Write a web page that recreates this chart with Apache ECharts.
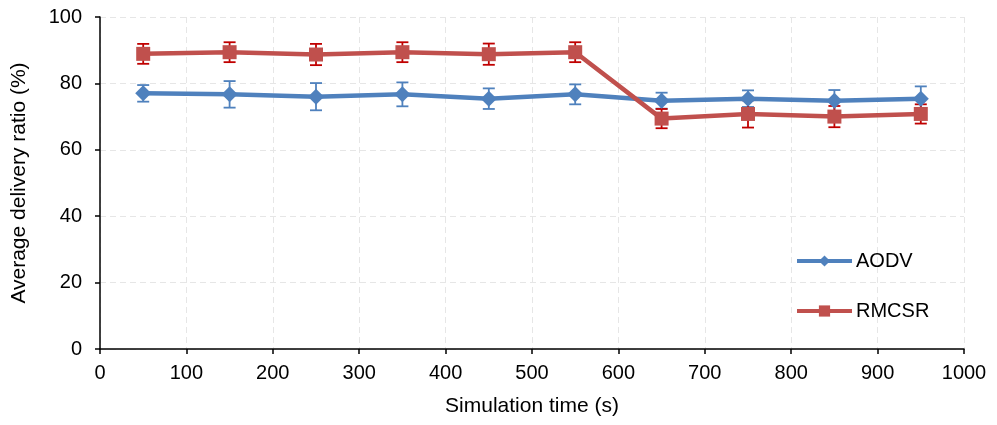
<!DOCTYPE html>
<html>
<head>
<meta charset="utf-8">
<script src="https://cdn.jsdelivr.net/npm/echarts@6/dist/echarts.min.js"></script>
<style>
  html, body { margin: 0; padding: 0; background: #fff; }
  #chart { width: 997px; height: 425px; }
</style>
</head>
<body>
<div id="chart"></div>
<script>
// Simulation times (s)
const times = [50, 150, 250, 350, 450, 550, 650, 750, 850, 950];

// Average delivery ratio (%) and standard deviation per protocol
const aodvMean = [77.0, 76.7, 76.0, 76.7, 75.4, 76.7, 74.8, 75.4, 74.8, 75.4];
const aodvErr  = [2.5, 4.0, 4.1, 3.6, 3.1, 3.0, 2.4, 2.5, 3.2, 3.7];
const rmcsrMean = [88.9, 89.4, 88.7, 89.4, 88.8, 89.4, 69.4, 70.8, 70.0, 70.8];
const rmcsrErr  = [3.0, 3.0, 3.2, 3.0, 3.2, 3.0, 2.9, 4.1, 3.2, 2.9];

const xTicks = { min: 0, max: 1000, interval: 100 };
const yTicks = { min: 0, max: 100, interval: 20 };

const FONT = 'Liberation Sans, Arial, sans-serif';

function pairs(xs, ys) { return xs.map((x, i) => [x, ys[i]]); }
function errRows(xs, ys, es) { return xs.map((x, i) => [x, ys[i] - es[i], ys[i] + es[i]]); }

// Vertical error bar with short caps at both ends
function errorBars(color) {
  return function (params, api) {
    const x = api.value(0);
    const lo = api.coord([x, api.value(1)]);
    const hi = api.coord([x, api.value(2)]);
    const half = 6;
    const style = { stroke: color, lineWidth: 1.8 };
    return {
      type: 'group',
      children: [
        { type: 'line', shape: { x1: lo[0], y1: lo[1], x2: hi[0], y2: hi[1] }, style },
        { type: 'line', shape: { x1: hi[0] - half, y1: hi[1], x2: hi[0] + half, y2: hi[1] }, style },
        { type: 'line', shape: { x1: lo[0] - half, y1: lo[1], x2: lo[0] + half, y2: lo[1] }, style }
      ]
    };
  };
}

const chart = echarts.init(document.getElementById('chart'), null, { renderer: 'canvas' });

chart.setOption({
  animation: false,
  backgroundColor: '#ffffff',
  textStyle: { fontFamily: FONT },
  grid: { left: 100, right: 33, top: 17, bottom: 76, containLabel: false },
  legend: {
    orient: 'vertical',
    left: 790,
    top: 246,
    itemWidth: 55,
    itemHeight: 14,
    itemGap: 30,
    lineStyle: { width: 4 },
    textStyle: { fontFamily: FONT, fontSize: 20, color: '#000', padding: [0, 0, 0, -1] },
    data: ['AODV', 'RMCSR']
  },
  xAxis: {
    type: 'value',
    min: xTicks.min, max: xTicks.max, interval: xTicks.interval,
    name: 'Simulation time (s)',
    nameLocation: 'middle',
    nameGap: 47,
    nameTextStyle: { fontFamily: FONT, fontSize: 21, color: '#000' },
    axisLine: { onZero: false, lineStyle: { color: '#000', width: 1.5 } },
    axisTick: { show: true, length: 5, lineStyle: { color: '#000', width: 1.5 } },
    axisLabel: { fontFamily: FONT, fontSize: 20, color: '#000', margin: 14, formatter: v => String(v) },
    splitLine: { show: true, lineStyle: { color: '#e6e6e6', type: [6, 4], width: 1 } }
  },
  yAxis: {
    type: 'value',
    min: yTicks.min, max: yTicks.max, interval: yTicks.interval,
    name: 'Average delivery ratio (%)',
    nameLocation: 'middle',
    nameGap: 70,
    nameRotate: 90,
    nameTextStyle: { fontFamily: FONT, fontSize: 21, color: '#000' },
    axisLine: { show: true, lineStyle: { color: '#000', width: 1.5 } },
    axisTick: { show: true, length: 5, lineStyle: { color: '#000', width: 1.5 } },
    axisLabel: { fontFamily: FONT, fontSize: 20, color: '#000', margin: 18 },
    splitLine: { show: true, lineStyle: { color: '#e6e6e6', type: [6, 4], width: 1 } }
  },
  series: [
    {
      name: 'AODV err',
      type: 'custom',
      renderItem: errorBars('#4F81BD'),
      data: errRows(times, aodvMean, aodvErr),
      encode: { x: 0, y: [1, 2] },
      z: 1
    },
    {
      name: 'RMCSR err',
      type: 'custom',
      renderItem: errorBars('#C00000'),
      data: errRows(times, rmcsrMean, rmcsrErr),
      encode: { x: 0, y: [1, 2] },
      z: 1
    },
    {
      name: 'AODV',
      type: 'line',
      data: pairs(times, aodvMean),
      symbol: 'diamond',
      symbolSize: 16,
      color: '#4F81BD',
      lineStyle: { color: '#4F81BD', width: 4.5 },
      itemStyle: { color: '#4F81BD' },
      z: 3
    },
    {
      name: 'RMCSR',
      type: 'line',
      data: pairs(times, rmcsrMean),
      symbol: 'rect',
      symbolSize: 14,
      color: '#C0504D',
      lineStyle: { color: '#C0504D', width: 4.5 },
      itemStyle: { color: '#C0504D' },
      z: 3
    }
  ]
});
</script>
</body>
</html>
